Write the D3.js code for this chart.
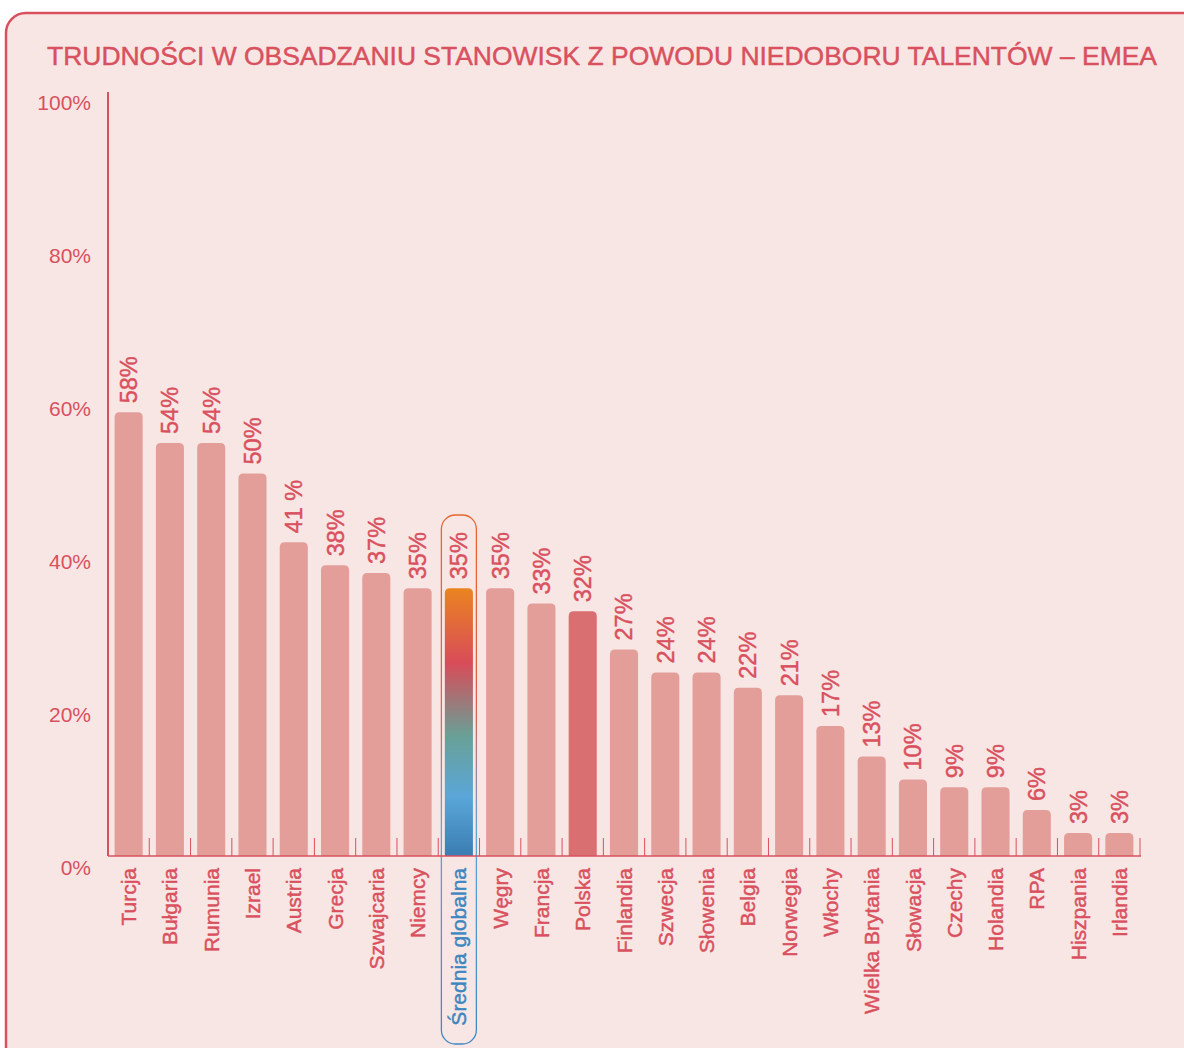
<!DOCTYPE html>
<html>
<head>
<meta charset="utf-8">
<script src="https://cdnjs.cloudflare.com/ajax/libs/d3/7.8.5/d3.min.js"></script>
<style>
  html, body { margin: 0; padding: 0; background: #ffffff; }
  svg { display: block; font-family: "Liberation Sans", Arial, Helvetica, sans-serif; }
  svg text { stroke-width: 0.45px; }
</style>
</head>
<body>
<div id="chart"></div>
<script>
// dane z wykresu
var countries = ["Turcja", "Bułgaria", "Rumunia", "Izrael", "Austria", "Grecja", "Szwajcaria", "Niemcy",
    "Średnia  globalna", "Węgry", "Francja", "Polska", "Finlandia", "Szwecja", "Słowenia", "Belgia",
    "Norwegia", "Włochy", "Wielka Brytania", "Słowacja", "Czechy", "Holandia", "RPA", "Hiszpania", "Irlandia"];
var values = [58, 54, 54, 50, 41, 38, 37, 35, 35, 35, 33, 32, 27, 24, 24, 22, 21, 17, 13, 10, 9, 9, 6, 3, 3];
var valueLabels = ["58%", "54%", "54%", "50%", "41 %", "38%", "37%", "35%", "35%", "35%", "33%", "32%", "27%",
    "24%", "24%", "22%", "21%", "17%", "13%", "10%", "9%", "9%", "6%", "3%", "3%"];
var yTicks = [0, 20, 40, 60, 80, 100];
var title = "TRUDNOŚCI W OBSADZANIU STANOWISK Z POWODU NIEDOBORU TALENTÓW – EMEA";
var globalName = "Średnia  globalna";
var homeName = "Polska";

var W = 1184, H = 1048;
var red = "#d9505e";
var blue = "#3d86bf";

var svg = d3.select("#chart").append("svg")
    .attr("width", W)
    .attr("height", H);

var defs = svg.append("defs");

var grad = defs.append("linearGradient")
    .attr("id", "avgGrad")
    .attr("x1", 0).attr("y1", 0).attr("x2", 0).attr("y2", 1);
[["0%", "#ea8420"], ["28%", "#d84c59"], ["55%", "#69a096"], ["78%", "#5aa6d9"], ["100%", "#3a7db3"]]
    .forEach(function(s) { grad.append("stop").attr("offset", s[0]).attr("stop-color", s[1]); });

var outlineGrad = defs.append("linearGradient")
    .attr("id", "outlineGrad")
    .attr("gradientUnits", "userSpaceOnUse")
    .attr("x1", 0).attr("y1", 515).attr("x2", 0).attr("y2", 1044);
[["0%", "#e8662e"], ["35%", "#e0604a"], ["60%", "#5aa6d9"], ["100%", "#3d88c2"]]
    .forEach(function(s) { outlineGrad.append("stop").attr("offset", s[0]).attr("stop-color", s[1]); });

// tło i ramka
svg.append("rect")
    .attr("x", 6).attr("y", 13)
    .attr("width", W + 30).attr("height", H + 30)
    .attr("rx", 20).attr("ry", 20)
    .attr("fill", "#f7e6e4")
    .attr("stroke", red)
    .attr("stroke-width", 2.5);

svg.append("text")
    .attr("x", 602).attr("y", 65)
    .attr("text-anchor", "middle")
    .attr("fill", red).attr("stroke", red)
    .attr("font-size", 26.5)
    .attr("textLength", 1110)
    .attr("lengthAdjust", "spacingAndGlyphs")
    .text(title);

var x = d3.scaleBand()
    .domain(countries)
    .range([108, 1140])
    .paddingInner(0.32)
    .paddingOuter(0.16);

var y = d3.scaleLinear()
    .domain([0, 100])
    .range([856, 91]);

var step = x.step();
var left = 108;

// etykiety osi Y
svg.selectAll(".ytick")
    .data(yTicks)
    .enter().append("text")
    .attr("class", "ytick")
    .attr("x", 91)
    .attr("y", function(d) { return y(d) + 12; })
    .attr("dy", "0.35em")
    .attr("text-anchor", "end")
    .attr("fill", red)
    .attr("font-size", 21)
    .text(function(d) { return d + "%"; });

// słupki
svg.selectAll(".bar")
    .data(countries)
    .enter().append("path")
    .attr("class", "bar")
    .attr("d", function(d, i) {
        var x0 = x(d), w = x.bandwidth(), y0 = y(values[i]), y1 = y(0), r = 5;
        return "M" + x0 + "," + y1 + "V" + (y0 + r) + "Q" + x0 + "," + y0 + " " + (x0 + r) + "," + y0 +
            "H" + (x0 + w - r) + "Q" + (x0 + w) + "," + y0 + " " + (x0 + w) + "," + (y0 + r) + "V" + y1 + "Z";
    })
    .attr("fill", function(d) {
        if (d === globalName) return "url(#avgGrad)";
        if (d === homeName) return "#d96f70";
        return "#e39e9a";
    });

// obramowanie średniej globalnej
var gx = x(globalName) + x.bandwidth() / 2;
svg.append("rect")
    .attr("x", gx - 17.5).attr("y", 515)
    .attr("width", 35).attr("height", 529)
    .attr("rx", 14).attr("ry", 14)
    .attr("fill", "none")
    .attr("stroke", "url(#outlineGrad)")
    .attr("stroke-width", 1.3);

// osie
svg.append("line")
    .attr("x1", left).attr("x2", left)
    .attr("y1", 92).attr("y2", y(0))
    .attr("stroke", red).attr("stroke-width", 2);

svg.append("line")
    .attr("x1", left).attr("x2", 1141)
    .attr("y1", y(0)).attr("y2", y(0))
    .attr("stroke", red).attr("stroke-width", 1.5);

svg.selectAll(".tick")
    .data(d3.range(1, countries.length + 1))
    .enter().append("line")
    .attr("class", "tick")
    .attr("x1", function(i) { return left + i * step; })
    .attr("x2", function(i) { return left + i * step; })
    .attr("y1", y(0) - 18).attr("y2", y(0))
    .attr("stroke", red).attr("stroke-width", 1);

// wartości
svg.selectAll(".val")
    .data(countries)
    .enter().append("text")
    .attr("class", "val")
    .attr("transform", function(d, i) {
        return "translate(" + (x(d) + x.bandwidth() / 2) + "," + (y(values[i]) - 9) + ") rotate(-90)";
    })
    .attr("dy", "0.36em")
    .attr("fill", red).attr("stroke", red)
    .attr("font-size", 23.5)
    .text(function(d, i) { return valueLabels[i]; });

// nazwy krajów
svg.selectAll(".cat")
    .data(countries)
    .enter().append("text")
    .attr("class", "cat")
    .attr("transform", function(d) {
        return "translate(" + (x(d) + x.bandwidth() / 2) + "," + 868 + ") rotate(-90)";
    })
    .attr("dy", "0.36em")
    .attr("text-anchor", "end")
    .attr("fill", function(d) { return d === globalName ? blue : red; })
    .attr("stroke", function(d) { return d === globalName ? blue : red; })
    .attr("font-size", 21)
    .text(function(d) { return d; });
</script>
</body>
</html>
